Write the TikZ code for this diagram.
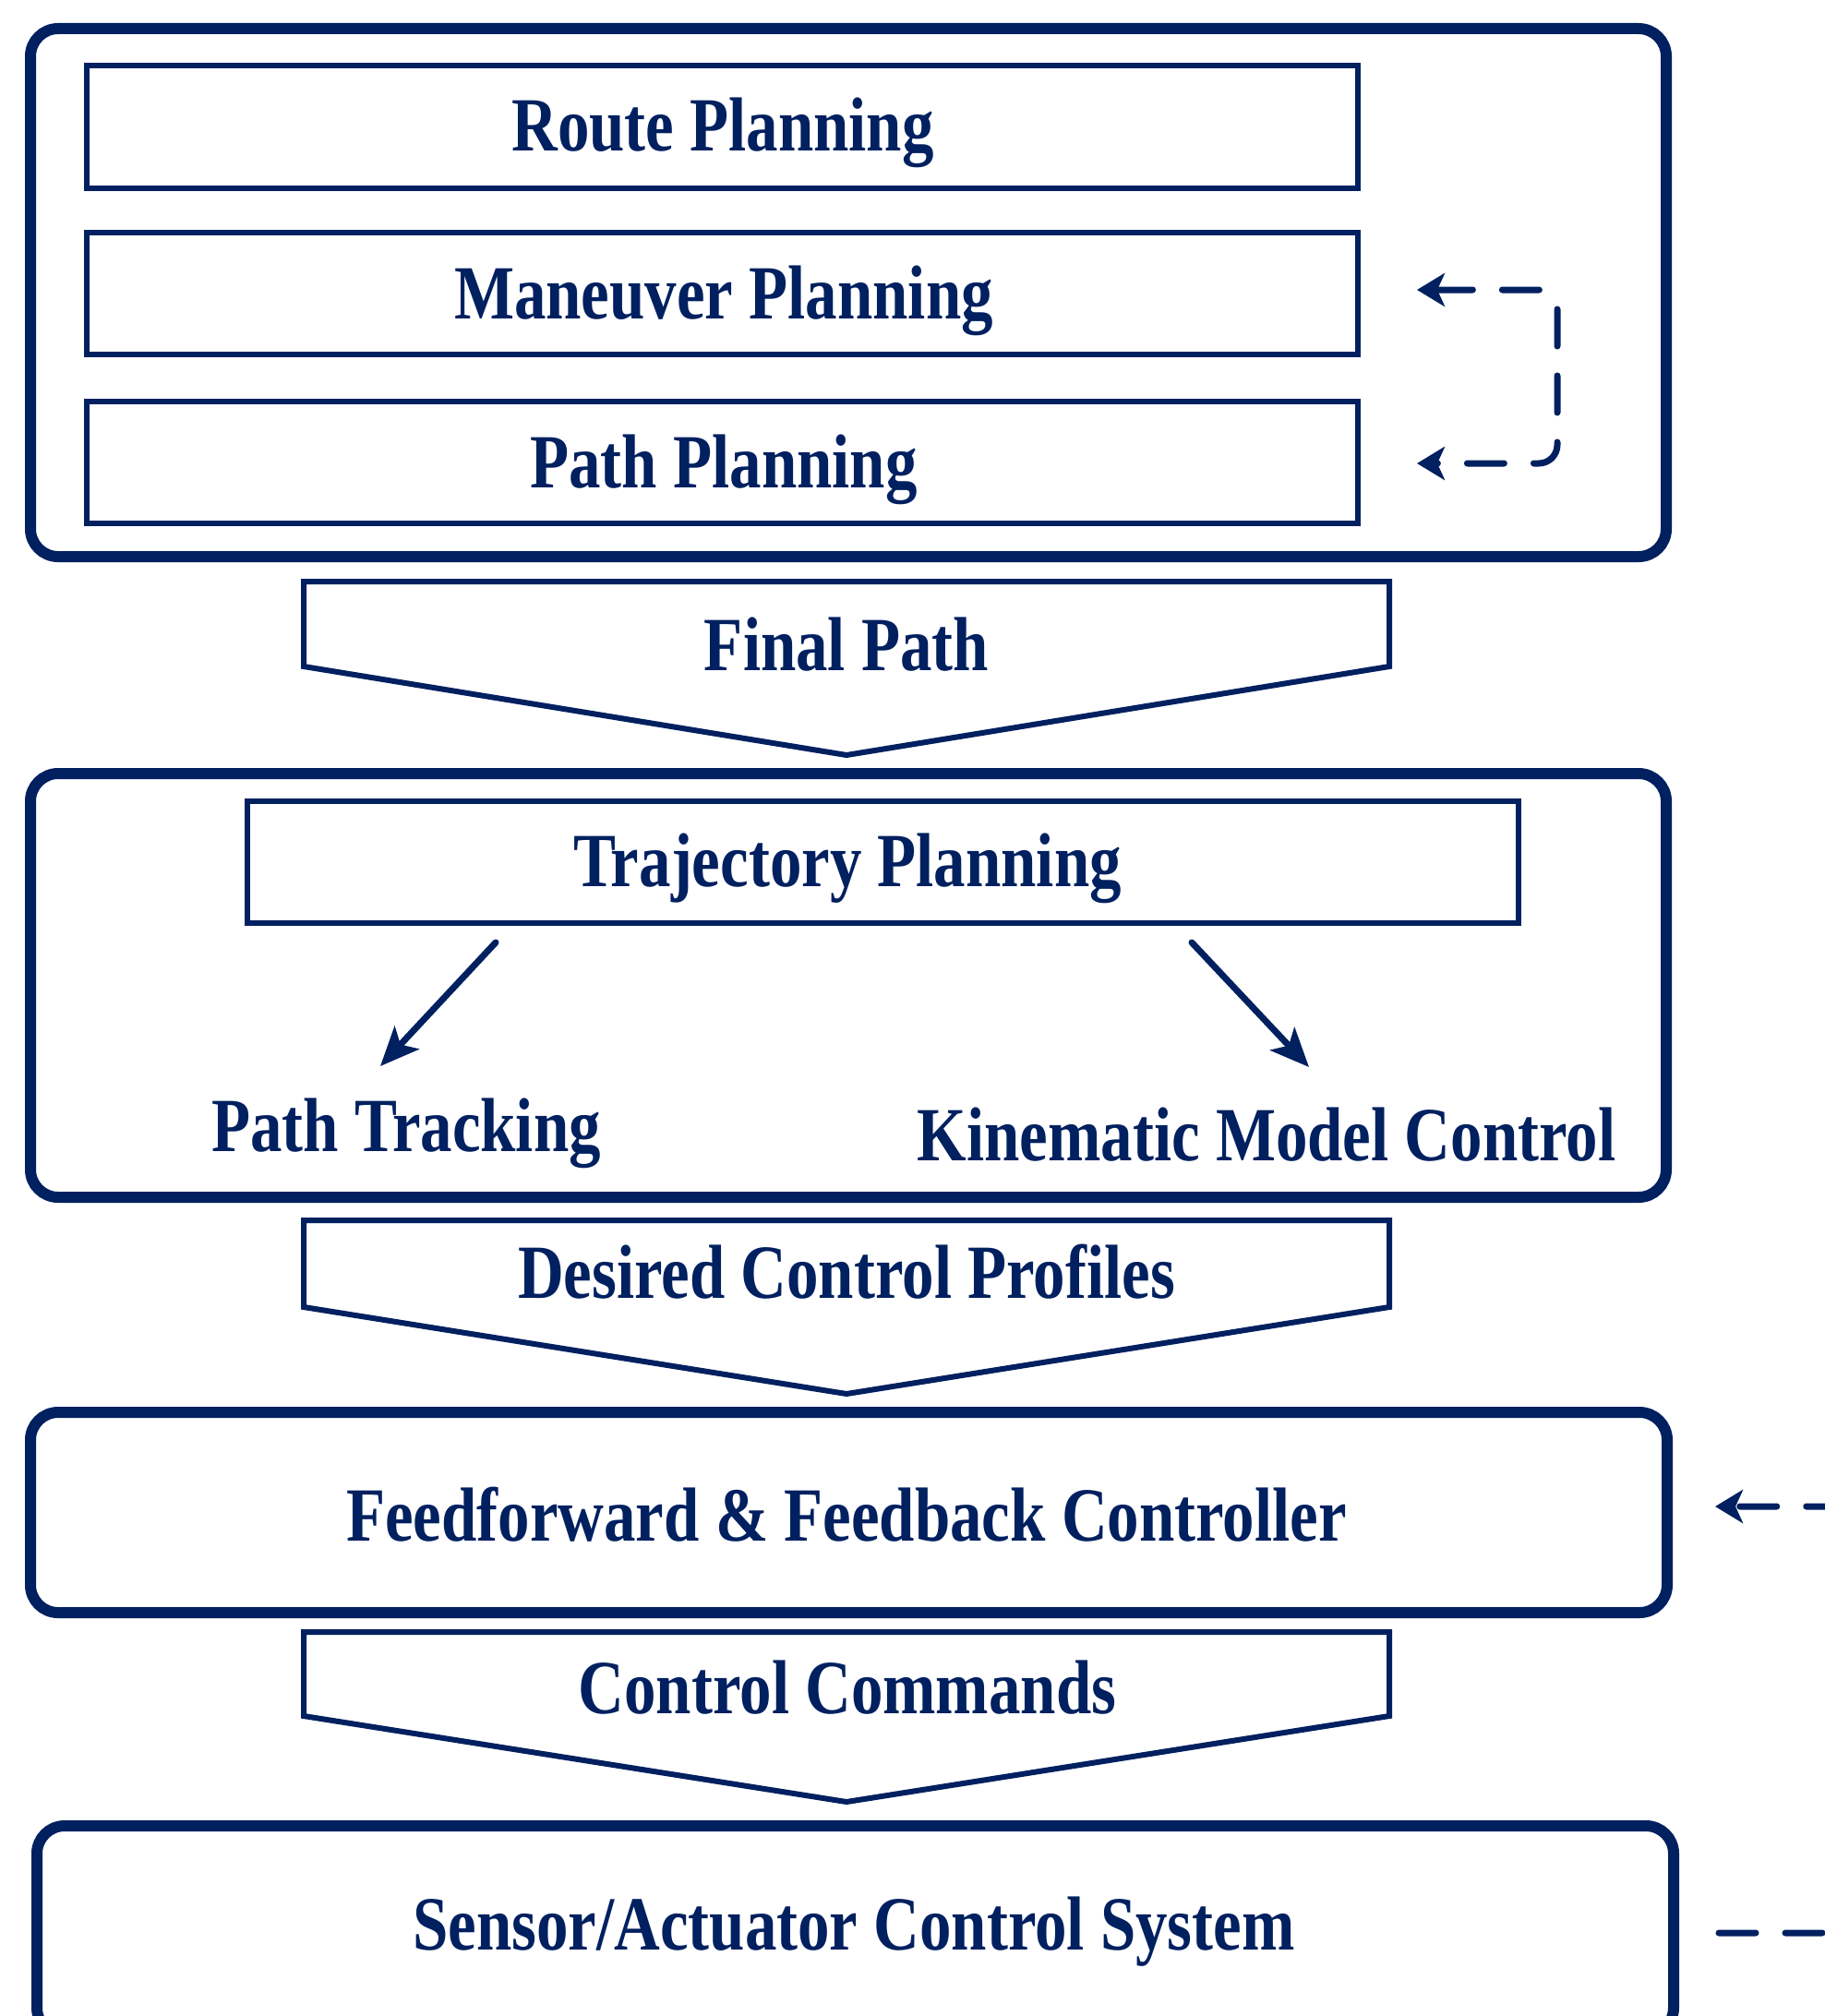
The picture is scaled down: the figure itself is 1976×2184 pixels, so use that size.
\documentclass[tikz,border=0pt]{standalone}
\usepackage{fontspec}
\newfontfamily\dfont[FakeStretch=0.83]{Liberation Serif}
\usetikzlibrary{arrows.meta}
\definecolor{navy}{RGB}{0,32,96}
\begin{document}
\begin{tikzpicture}[x=1pt,y=-1pt,
  outerbox/.style={draw=navy, line width=12pt, rounded corners=30pt, inner sep=0pt, outer sep=0pt},
  inbox/.style={draw=navy, line width=6pt, inner sep=0pt, outer sep=0pt},
  lbl/.style={text=navy, font=\dfont\bfseries\fontsize{83}{90}\selectfont, inner sep=0pt, anchor=base},
  solidarr/.style={draw=navy, line width=7pt, line cap=round, -{Stealth[length=42pt,width=36pt,inset=10pt]}},
  dasharr/.style={draw=navy, line width=7pt, line cap=round, dash pattern=on 40pt off 32pt, rounded corners=20pt},
  dtip/.tip={Stealth[length=30pt,width=36pt,inset=8pt]},
  chev/.style={draw=navy, line width=6pt, line join=miter}]
\useasboundingbox (0,0) rectangle (1976,2184);
\fill[white] (0,0) rectangle (1976,2184);

% outer boxes
\node[outerbox, minimum width=1772pt, minimum height=572pt] (o1) at (919,317) {};
\node[outerbox, minimum width=1772pt, minimum height=459pt] (o2) at (919,1067.5) {};
\node[outerbox, minimum width=1773pt, minimum height=217pt] (o3) at (919.5,1638.5) {};
\node[outerbox, minimum width=1773pt, minimum height=227pt] (o4) at (926.5,2091.5) {};

% inner boxes
\node[inbox, minimum width=1377pt, minimum height=132pt] (route) at (782,137.5) {};
\node[inbox, minimum width=1377pt, minimum height=132pt] (man) at (782,317.5) {};
\node[inbox, minimum width=1377pt, minimum height=132pt] (pathp) at (782,501) {};
\node[inbox, minimum width=1377pt, minimum height=132pt] (traj) at (956,933.5) {};

% chevrons
\draw[chev] (329,630) -- (1505,630) -- (1505,722) -- (917,818) -- (329,722) -- cycle;
\draw[chev] (329,1322) -- (1505,1322) -- (1505,1416) -- (917,1510) -- (329,1416) -- cycle;
\draw[chev] (329,1768) -- (1505,1768) -- (1505,1859) -- (917,1952) -- (329,1859) -- cycle;

% labels
\node[lbl] (tRoute) at (783,163) {Route Planning};
\node[lbl] (tMan) at (784,345) {Maneuver Planning};
\node[lbl] (tPathP) at (784,528) {Path Planning};
\node[lbl] (tFinal) at (917,726) {Final Path};
\node[lbl] (tTraj) at (918,960) {Trajectory Planning};
\node[lbl] (tTrack) at (440,1247) {Path Tracking};
\node[lbl] (tKin) at (1372,1257) {Kinematic Model Control};
\node[lbl] (tDes) at (917,1406) {Desired Control Profiles};
\node[lbl] (tFF) at (917,1669) {Feedforward \& Feedback Controller};
\node[lbl] (tCmd) at (918,1856) {Control Commands};
\node[lbl] (tSens) at (925,2112) {Sensor/Actuator Control System};

% solid arrows
\coordinate (a1s) at (537,1021);
\coordinate (a1e) at (412,1155);
\coordinate (a2s) at (1291,1021);
\coordinate (a2e) at (1418,1156);
\draw[solidarr] (a1s) -- (a1e);
\draw[solidarr] (a2s) -- (a2e);

% dashed feedback arrows
\coordinate (d1e) at (1535,314);
\coordinate (d2e) at (1535,502);
\draw[dasharr, dtip-dtip] (d1e) -- (1687,314) -- (1687,502) -- (d2e);
\coordinate (d3s) at (1862,2094);
\coordinate (d3e) at (1858,1632);
\draw[dasharr, -dtip] (d3s) -- (1995,2094) -- (1995,1632) -- (d3e);
\end{tikzpicture}
\end{document}
